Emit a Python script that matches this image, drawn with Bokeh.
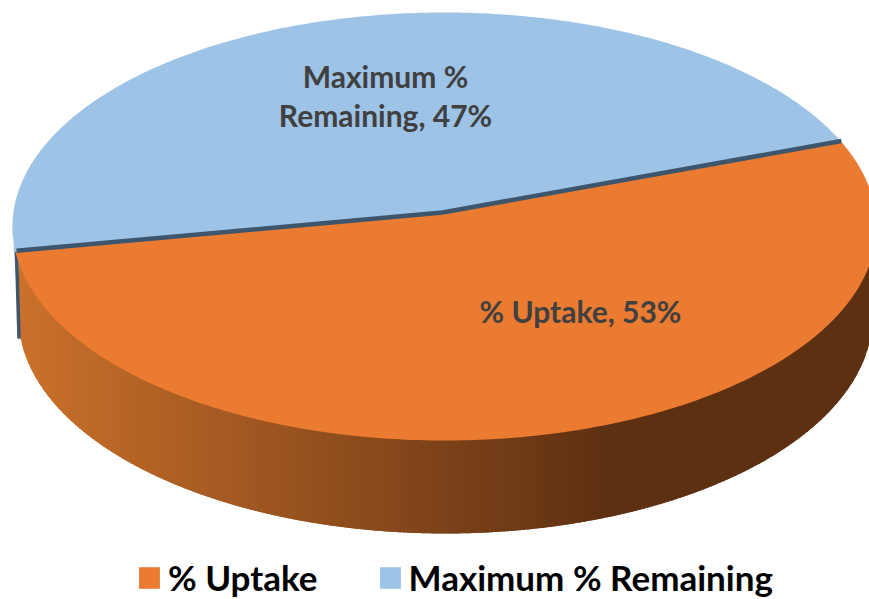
import numpy as np
from bokeh.embed import file_html
from bokeh.resources import INLINE
from bokeh.plotting import figure
from bokeh.models import Range1d, Legend, LegendItem
from bokeh.core.properties import value

categories = ["% Uptake", "Maximum % Remaining"]
shares = [53, 47]
colors = ["#EA7B30", "#9DC3E6"]
label_font = "Lato"

W, H = 869, 599
CX, CY, A, B = 444.0, 226.0, 432.0, 214.0
BX, BY, BA, BB = 445.0, 316.0, 427.0, 217.0
AX, AY = 442.0, 213.0
START = 22.5
FLAT = 187.0


def hit(theta):
    """Where a ray from the apex (flattened like the disc) meets the rim; returns rim parameter."""
    dx, dy = np.cos(np.radians(theta)) * A, np.sin(np.radians(theta)) * FLAT
    ox, oy = (AX - CX) / A, (CY - AY) / B
    ux, uy = dx / A, dy / B
    a = ux * ux + uy * uy
    b = 2 * (ox * ux + oy * uy)
    c = ox * ox + oy * oy - 1
    s = (-b + np.sqrt(b * b - 4 * a * c)) / (2 * a)
    return np.degrees(np.arctan2(oy + s * uy, ox + s * ux))


def rim(t, cx=CX, cy=CY, a=A, b=B):
    r = np.radians(t)
    return cx + a * np.cos(r), cy - b * np.sin(r)


sweep = shares[0] / sum(shares) * 360
t_right = hit(START)
t_left = hit(START - sweep)  # negative angle, below the horizontal

p = figure(width=W, height=H, output_backend="svg", toolbar_location=None,
           x_range=Range1d(0, W), y_range=Range1d(H, 0), min_border=0,
           outline_line_color=None, background_fill_color="white")
p.axis.visible = False
p.grid.visible = False
p.styles = {"position": "absolute", "left": "0px", "top": "0px"}

# blue sliver of wall on the far left
arc_t = np.linspace(180, 360 + t_left, 12)
bx, by = rim(arc_t)
b2x, b2y = rim(np.linspace(360 + t_left, 180, 12), BX, BY, BA, BB)
p.patch(np.r_[bx, [bx[-1] + 3], b2x[1:]], np.r_[by, [338], b2y[1:]],
        fill_color="#86ACD4", line_color=None)

# orange wall, shaded in narrow overlapping vertical bands from left to right
c0 = np.array([0xCB, 0x71, 0x2B])
c1 = np.array([0x5E, 0x30, 0x12])
edges = np.arange(BX - BA, BX + BA, 4.0)
for x0 in edges:
    xs = np.linspace(x0, min(x0 + 7, BX + BA), 5)
    yb = BY + BB * np.sqrt(np.clip(1 - ((xs - BX) / BA) ** 2, 0, 1))
    f = min(max((x0 + 2 - 20) / 590, 0), 1)
    c = (c0 + (c1 - c0) * f).astype(int)
    col = "#%02X%02X%02X" % tuple(c)
    p.patch(np.r_[xs, xs[::-1]], np.r_[yb, np.full(5, CY + 20)],
            fill_color=col, line_color=None)

# left wall edge
lx, ly = rim(360 + t_left)
p.line([lx + 1, lx + 3.5], [ly, 338], line_color="#3E566D", line_width=3.5)

# top faces
t_o = np.linspace(t_right, t_left, 240)
ox, oy = rim(t_o)
orange = p.patch(np.r_[AX, ox], np.r_[AY, oy], fill_color=colors[0], line_color=None)
t_b = np.linspace(t_right, 360 + t_left, 240)
bx, by = rim(t_b)
blue = p.patch(np.r_[AX, bx], np.r_[AY, by], fill_color=colors[1], line_color=None)

# separators
rx, ry = rim(t_right)
p.line([lx + 1, AX, rx], [ly - 1, AY - 1, ry - 1], line_color="#3E566D", line_width=4.5,
       line_join="miter")

# data labels
label_rows = ["Maximum %", f"Remaining, {shares[1]}%", f"{categories[0]}, {shares[0]}%"]
label_x = [385, 385, 580]
label_y = [75, 114, 310.5]
p.text(label_x, label_y, text=label_rows, text_align="center", text_baseline="middle",
       text_font=value(label_font), text_font_style="bold", text_font_size="30px",
       text_color="#404040")

legend = Legend(items=[LegendItem(label=categories[0], renderers=[orange]),
                       LegendItem(label=categories[1], renderers=[blue])],
                orientation="horizontal", location=(136, 1), border_line_width=0,
                border_line_color=None, background_fill_alpha=0, padding=0, margin=0,
                spacing=59, glyph_width=26, glyph_height=27, label_standoff=6,
                label_text_font=label_font, label_text_font_style="bold",
                label_text_font_size="35px", label_text_color="#000000")
p.add_layout(legend, "center")

open("out.html", "w").write(file_html(p, INLINE))
